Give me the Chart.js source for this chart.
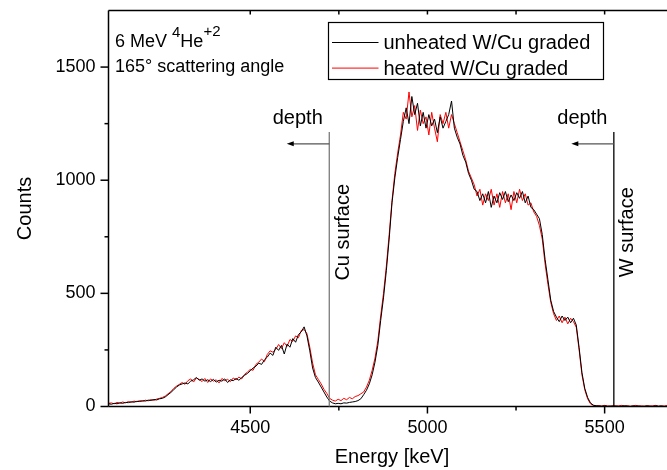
<!DOCTYPE html>
<html>
<head>
<meta charset="utf-8">
<script src="https://cdn.jsdelivr.net/npm/chart.js@4/dist/chart.umd.min.js"></script>
<style>
  html, body { margin: 0; padding: 0; overflow: hidden; background: #fff; }
  canvas { display: block; }
</style>
</head>
<body>
<canvas id="chart" width="680" height="470"></canvas>
<script>
// RBS spectra, 8 keV per point starting at 4100 keV
const E0 = 4100;
const dE = 8;

const unheated = [
  12, 10, 14, 12, 16, 14, 18, 17, 21, 19,
  23, 22, 26, 24, 28, 27, 31, 29, 34, 36,
  42, 52, 62, 74, 86, 95, 100, 104, 100, 112,
  118, 128, 116, 122, 112, 118, 110, 120, 108, 116,
  112, 122, 106, 118, 114, 124, 116, 128, 138, 146,
  158, 170, 178, 192, 186, 206, 218, 236, 226, 262,
  248, 270, 232, 276, 262, 300, 284, 318, 330, 352,
  312, 246, 170, 128, 108, 86, 64, 42, 24, 16,
  12, 14, 12, 16, 15, 18, 20, 22, 26, 34,
  52, 72, 100, 140, 196, 270, 380, 480, 600, 740,
  900, 1010, 1100, 1180, 1260, 1320, 1250, 1370, 1290, 1340,
  1240, 1300, 1230, 1290, 1240, 1270, 1210, 1280, 1230, 1260,
  1290, 1350, 1230, 1190, 1160, 1110, 1080, 1030, 1000, 960,
  950, 910, 940, 900, 950, 880, 930, 900, 945, 915,
  950, 905, 935, 910, 945, 920, 950, 900, 930, 880,
  870, 850, 830, 760, 650, 560, 470, 420, 395, 375,
  400, 380, 395, 370, 390, 360, 260, 150, 80, 40,
  16, 6, 3, 2, 1, 3, 0, 2, 1, 2,
  0, 1, 3, 1, 0, 2, 1, 2, 0, 1,
  2, 1, 0, 3, 1, 2, 0, 1, 2, 1, 0
];

const heated = [
  14, 16, 12, 18, 15, 20, 16, 22, 18, 24,
  21, 26, 22, 28, 25, 30, 27, 33, 36, 40,
  46, 56, 66, 80, 90, 98, 106, 98, 114, 122,
  108, 126, 120, 110, 124, 106, 122, 112, 118, 104,
  124, 114, 120, 110, 126, 118, 130, 122, 142, 152,
  164, 160, 186, 196, 210, 198, 230, 246, 240, 252,
  274, 256, 282, 266, 296, 288, 312, 304, 336, 340,
  322, 262, 192, 140, 120, 100, 76, 58, 36, 28,
  24, 32, 26, 36, 30, 40, 34, 44, 48, 56,
  64, 86, 116, 160, 214, 290, 400, 500, 620, 760,
  910, 1030, 1120, 1200, 1300, 1270, 1390, 1280, 1330, 1220,
  1310, 1250, 1280, 1200, 1300, 1230, 1170, 1290, 1250, 1300,
  1230, 1290, 1250, 1210, 1170, 1130, 1090, 1040, 1010, 980,
  930, 960, 890, 940, 910, 960, 890, 940, 880, 950,
  900, 940, 870, 950, 900, 960, 910, 940, 890, 900,
  860, 840, 800, 740, 630, 540, 460, 410, 380, 400,
  370, 395, 365, 390, 375, 350, 250, 140, 74, 34,
  12, 5, 3, 4, 2, 5, 3, 1, 4, 2,
  3, 5, 2, 4, 1, 3, 5, 2, 3, 1,
  4, 2, 3, 5, 1, 3, 2, 4, 2, 3, 1
];

const energy = unheated.map((_, i) => E0 + i * dE);

const seriesLabels = ["unheated W/Cu graded", "heated W/Cu graded"];
const seriesColors = ["#000000", "#ff0000"];

// surface markers (keV), line top / arrow level in counts
const surfaces = [
  { label: "Cu surface", e: 4723, color: "#7a7a7a" },
  { label: "W surface", e: 5526, color: "#000000" },
];
const markerTop = 1213;
const arrowLevel = 1161;
const arrowLen = 120;

const xMin = 4100, xMax = 5700;
const yMin = 0, yMax = 1750;

const FONT = '"Liberation Sans", Arial, Helvetica, sans-serif';

const pts = (arr) => arr.map((v, i) => ({ x: energy[i], y: v }));

function hline(ctx, x1, y1, x2, y2) {
  ctx.beginPath();
  ctx.moveTo(x1, y1);
  ctx.lineTo(x2, y2);
  ctx.stroke();
}

const decor = {
  id: "decor",
  afterDraw(c) {
    const { ctx, chartArea: a, scales: { x, y } } = c;
    ctx.save();

    // frame
    ctx.strokeStyle = "#000";
    ctx.lineWidth = 1.5;
    hline(ctx, a.left, a.top, a.right, a.top);
    hline(ctx, a.left, a.bottom, a.right, a.bottom);
    hline(ctx, a.left, a.top, a.left, a.bottom);
    hline(ctx, a.right, a.top, a.right, a.bottom);

    // x ticks: bottom outward, top inward
    for (const t of x.ticks) {
      if (t.value % 250) continue;
      const px = x.getPixelForValue(t.value);
      const major = t.value % 500 === 0;
      hline(ctx, px, a.bottom, px, a.bottom + (major ? 7 : 4));
      hline(ctx, px, a.top, px, a.top + 4);
    }
    // y ticks: left outward
    for (const t of y.ticks) {
      if (t.value % 250 || t.value === yMax) continue;
      const py = y.getPixelForValue(t.value);
      const major = t.value % 500 === 0;
      hline(ctx, a.left - (major ? 8 : 4), py, a.left, py);
    }

    // surface markers
    const yTop = y.getPixelForValue(markerTop);
    const yArr = y.getPixelForValue(arrowLevel);
    const textShift = x.getPixelForValue(xMin + 89) - x.getPixelForValue(xMin);
    for (const s of surfaces) {
      const px = x.getPixelForValue(s.e);
      const pl = x.getPixelForValue(s.e - arrowLen);
      ctx.strokeStyle = s.color;
      ctx.lineWidth = 1.3;
      hline(ctx, px, yTop, px, a.bottom);
      ctx.strokeStyle = "#555";
      ctx.lineWidth = 1.3;
      hline(ctx, px, yArr, pl + 5, yArr);
      ctx.fillStyle = "#000";
      ctx.beginPath();
      ctx.moveTo(pl, yArr);
      ctx.lineTo(pl + 7, yArr - 2.5);
      ctx.lineTo(pl + 7, yArr + 2.5);
      ctx.closePath();
      ctx.fill();

      ctx.font = `20px ${FONT}`;
      ctx.textAlign = "center";
      ctx.textBaseline = "alphabetic";
      ctx.fillText("depth", px - textShift, yArr - 20);

      ctx.save();
      ctx.translate(px + 14, y.getPixelForValue(770));
      ctx.rotate(-Math.PI / 2);
      ctx.textBaseline = "middle";
      ctx.fillText(s.label, 0, 0);
      ctx.restore();
    }

    // beam annotation
    ctx.fillStyle = "#000";
    ctx.textAlign = "left";
    ctx.textBaseline = "alphabetic";
    let tx = a.left + 6.5;
    const b1 = a.top + 36;
    const parts = [
      ["6 MeV ", 18, 0],
      ["4", 15, 10],
      ["He", 18, 0],
      ["+2", 15, 11],
    ];
    for (const [s, fs, up] of parts) {
      ctx.font = `${fs}px ${FONT}`;
      ctx.fillText(s, tx, b1 - up);
      tx += ctx.measureText(s).width;
    }
    ctx.font = `18px ${FONT}`;
    ctx.fillText("165\u00b0 scattering angle", a.left + 6.5, a.top + 61);

    // legend box
    const lx = a.left + 220, ly = a.top + 12, lw = 275, lh = 57;
    ctx.strokeStyle = "#000";
    ctx.lineWidth = 1.2;
    ctx.strokeRect(lx, ly, lw, lh);
    ctx.font = `20px ${FONT}`;
    ctx.textBaseline = "middle";
    c.data.datasets.forEach((ds, i) => {
      const yy = ly + 20 + i * 25.6;
      ctx.strokeStyle = ds.borderColor;
      ctx.lineWidth = 1;
      hline(ctx, lx + 3.5, yy, lx + 50, yy);
      ctx.fillStyle = "#000";
      ctx.fillText(ds.label, lx + 55, yy + 1);
    });

    ctx.restore();
  },
};

new Chart(document.getElementById("chart"), {
  type: "line",
  data: {
    datasets: [
      { label: seriesLabels[0], data: pts(unheated), borderColor: seriesColors[0], borderWidth: 1, pointRadius: 0, tension: 0 },
      { label: seriesLabels[1], data: pts(heated), borderColor: seriesColors[1], borderWidth: 1, pointRadius: 0, tension: 0 },
    ],
  },
  options: {
    responsive: false,
    animation: false,
    events: [],
    layout: { padding: { top: 10.5, right: 4.5, left: 0, bottom: 0 } },
    plugins: { legend: { display: false }, tooltip: { enabled: false } },
    scales: {
      x: {
        type: "linear",
        min: xMin,
        max: xMax,
        afterFit: (s) => { s.height = 63.5; s.paddingLeft = 0; s.paddingRight = 0; },
        grid: { display: false, drawTicks: false },
        border: { display: false },
        ticks: {
          stepSize: 250,
          autoSkip: false,
          maxRotation: 0,
          padding: 11,
          color: "#000",
          font: { family: FONT, size: 18 },
          callback: (v) => (v % 500 === 0 ? String(v) : ""),
        },
        title: {
          display: true,
          text: "Energy [keV]",
          color: "#000",
          font: { family: FONT, size: 20 },
          padding: { top: 0, bottom: 1 },
        },
      },
      y: {
        min: yMin,
        max: yMax,
        afterFit: (s) => { s.width = 108.5; s.paddingTop = 0; s.paddingBottom = 0; },
        grid: { display: false, drawTicks: false },
        border: { display: false },
        ticks: {
          stepSize: 250,
          autoSkip: false,
          padding: 13,
          color: "#000",
          font: { family: FONT, size: 18 },
          callback: (v) => (v % 500 === 0 ? String(v) : ""),
        },
        title: {
          display: true,
          text: "Counts",
          color: "#000",
          font: { family: FONT, size: 20 },
          padding: { top: 13, bottom: 0 },
        },
      },
    },
  },
  plugins: [decor],
});
</script>
</body>
</html>
